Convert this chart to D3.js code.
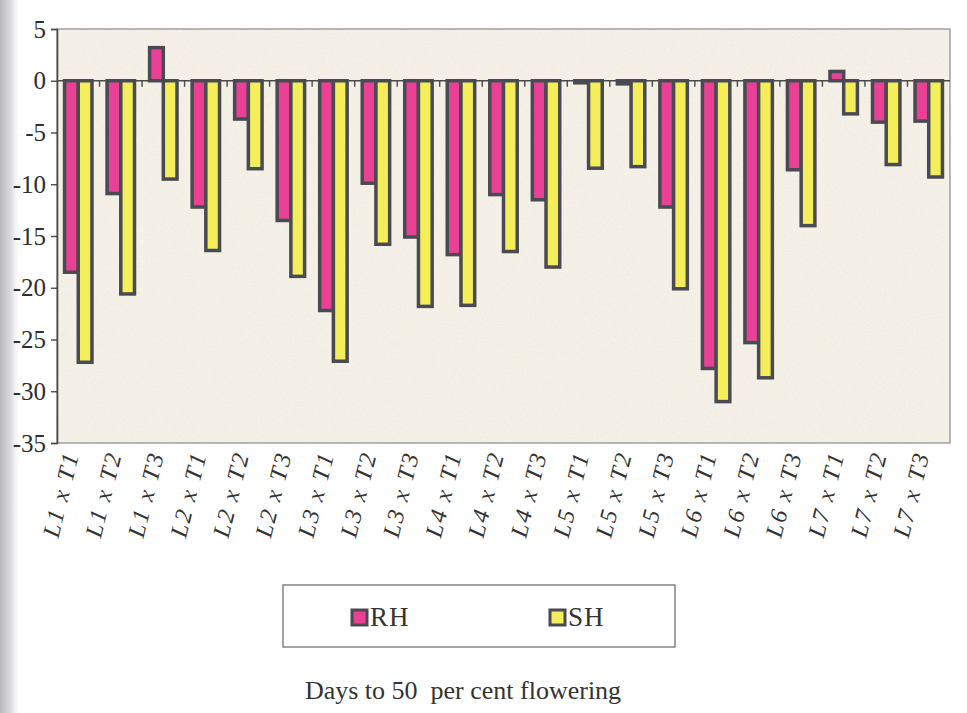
<!DOCTYPE html>
<html>
<head>
<meta charset="utf-8">
<script src="https://cdn.jsdelivr.net/npm/d3@7"></script>
<style>
  html, body { margin: 0; padding: 0; background: #ffffff; }
  svg { display: block; }
</style>
</head>
<body>
<svg id="chart" width="967" height="713"></svg>
<script>
// Crosses (line x tester)
const categories = ["L1 x T1","L1 x T2","L1 x T3","L2 x T1","L2 x T2","L2 x T3","L3 x T1",
  "L3 x T2","L3 x T3","L4 x T1","L4 x T2","L4 x T3","L5 x T1","L5 x T2","L5 x T3",
  "L6 x T1","L6 x T2","L6 x T3","L7 x T1","L7 x T2","L7 x T3"];
// Relative heterosis (%)
const rhValues = [-18.5,-10.9,3.2,-12.2,-3.7,-13.5,-22.2,-9.9,-15.1,-16.8,-11.0,-11.5,-0.2,-0.3,-12.2,-27.8,-25.3,-8.6,0.9,-4.0,-3.9];
// Standard heterosis (%)
const shValues = [-27.2,-20.6,-9.5,-16.4,-8.5,-18.9,-27.1,-15.8,-21.8,-21.7,-16.5,-18.0,-8.45,-8.3,-20.1,-31.0,-28.7,-14.0,-3.2,-8.1,-9.3];
const seriesNames = ["RH","SH"];
const yTicks = [5,0,-5,-10,-15,-20,-25,-30,-35];
const chartTitle = "Days to 50  per cent flowering";

const colors = { RH: "#ea4196", SH: "#f3ee5a" };
const edge = "#4a4a52";
const serif = "'Liberation Serif','Times New Roman',serif";

const svg = d3.select("#chart");
const plot = { left: 57, right: 950, top: 29, bottom: 443 };

// soft gray shading along the left edge of the page
const defs = svg.append("defs");
const shade = defs.append("linearGradient").attr("id", "edgeShade").attr("x1", 0).attr("x2", 1);
shade.append("stop").attr("offset", 0).attr("stop-color", "#b9b9bc");
shade.append("stop").attr("offset", 0.5).attr("stop-color", "#dcdcde");
shade.append("stop").attr("offset", 1).attr("stop-color", "#ffffff").attr("stop-opacity", 0);
svg.append("rect").attr("x", 0).attr("y", 0).attr("width", 22).attr("height", 713).attr("fill", "url(#edgeShade)");

// speckled paper texture for the plot area
const grain = defs.append("filter").attr("id", "grain").attr("x", 0).attr("y", 0).attr("width", 1).attr("height", 1);
grain.append("feTurbulence").attr("type", "fractalNoise").attr("baseFrequency", 0.9).attr("numOctaves", 2).attr("seed", 3).attr("result", "n");
grain.append("feColorMatrix").attr("in", "n").attr("type", "matrix")
  .attr("values", "0 0 0 0 0.78  0 0 0 0 0.72  0 0 0 0 0.6  0 0 0 -2.4 1.3").attr("result", "dots");
grain.append("feComposite").attr("in", "dots").attr("in2", "SourceGraphic").attr("operator", "in");

const x0 = d3.scaleBand().domain(categories).range([plot.left, plot.right]).paddingInner(0).paddingOuter(0);
const x1 = d3.scaleBand().domain(seriesNames).range([0, x0.bandwidth()]).paddingInner(0).paddingOuter(0.55);
const y = d3.scaleLinear().domain([-35, 5]).range([plot.bottom, plot.top]);

// plot background
svg.append("rect")
  .attr("x", plot.left).attr("y", plot.top)
  .attr("width", plot.right - plot.left).attr("height", plot.bottom - plot.top)
  .attr("fill", "#f5f1e8");
svg.append("rect")
  .attr("x", plot.left).attr("y", plot.top)
  .attr("width", plot.right - plot.left).attr("height", plot.bottom - plot.top)
  .attr("fill", "#f5f1e8").attr("filter", "url(#grain)").attr("opacity", 0.35);

// plot border
svg.append("rect")
  .attr("x", plot.left).attr("y", plot.top)
  .attr("width", plot.right - plot.left).attr("height", plot.bottom - plot.top)
  .attr("fill", "none").attr("stroke", "#8a8a8e").attr("stroke-width", 1.2);

// y axis
const yAxis = svg.append("g").attr("transform", `translate(${plot.left},0)`)
  .call(d3.axisLeft(y).tickValues(yTicks).tickSize(6).tickPadding(5).tickFormat(d => String(d)));
yAxis.select(".domain").attr("stroke", "#4a4a4a").attr("stroke-width", 1.6);
yAxis.selectAll(".tick line").attr("stroke", "#4a4a4a").attr("stroke-width", 1.4);
yAxis.selectAll(".tick text")
  .attr("font-family", serif).attr("font-size", 25).attr("fill", "#2d2d2d");

// category axis along zero, ticks at category boundaries
const zeroY = y(0);
svg.append("line")
  .attr("x1", plot.left).attr("x2", plot.right).attr("y1", zeroY).attr("y2", zeroY)
  .attr("stroke", "#4a4a4a").attr("stroke-width", 1.5);
svg.append("g").selectAll("line")
  .data(categories.slice(1))
  .join("line")
  .attr("x1", d => x0(d)).attr("x2", d => x0(d))
  .attr("y1", zeroY).attr("y2", zeroY + 6)
  .attr("stroke", "#4a4a4a").attr("stroke-width", 1.4);

// bars
const rows = categories.map((c, i) => ({ cat: c, RH: rhValues[i], SH: shValues[i] }));
const groups = svg.append("g").selectAll("g")
  .data(rows).join("g")
  .attr("transform", d => `translate(${x0(d.cat)},0)`);
groups.selectAll("rect")
  .data(d => seriesNames.map(k => ({ key: k, value: d[k] })))
  .join("rect")
  .attr("x", d => x1(d.key))
  .attr("width", x1.bandwidth())
  .attr("y", d => y(Math.max(0, d.value)))
  .attr("height", d => Math.abs(y(d.value) - y(0)))
  .attr("fill", d => colors[d.key])
  .attr("stroke", edge).attr("stroke-width", 3.5);

// category labels, slanted
svg.append("g").selectAll("text")
  .data(categories).join("text")
  .attr("transform", d => `translate(${x0(d) + x0.bandwidth() / 2 + 1},454) rotate(-76)`)
  .attr("text-anchor", "end")
  .attr("font-family", serif).attr("font-style", "italic")
  .attr("font-size", 24).attr("letter-spacing", 2)
  .attr("fill", "#333")
  .text(d => d);

// legend
const legend = svg.append("g");
legend.append("rect")
  .attr("x", 283).attr("y", 585).attr("width", 392).attr("height", 62)
  .attr("fill", "#fff").attr("stroke", "#666").attr("stroke-width", 1.2);
const legendItems = [{ key: "RH", x: 352 }, { key: "SH", x: 550 }];
legendItems.forEach(it => {
  legend.append("rect")
    .attr("x", it.x).attr("y", 610).attr("width", 15).attr("height", 15)
    .attr("fill", colors[it.key]).attr("stroke", edge).attr("stroke-width", 3);
  legend.append("text")
    .attr("x", it.x + 18).attr("y", 626)
    .attr("font-family", serif).attr("font-size", 27).attr("letter-spacing", 1)
    .attr("fill", "#333")
    .text(it.key);
});

// title under the legend
svg.append("text")
  .attr("x", 463).attr("y", 699)
  .attr("text-anchor", "middle")
  .attr("font-family", serif).attr("font-size", 26).attr("fill", "#333")
  .attr("xml:space", "preserve")
  .style("white-space", "pre")
  .text(chartTitle);
</script>
</body>
</html>
